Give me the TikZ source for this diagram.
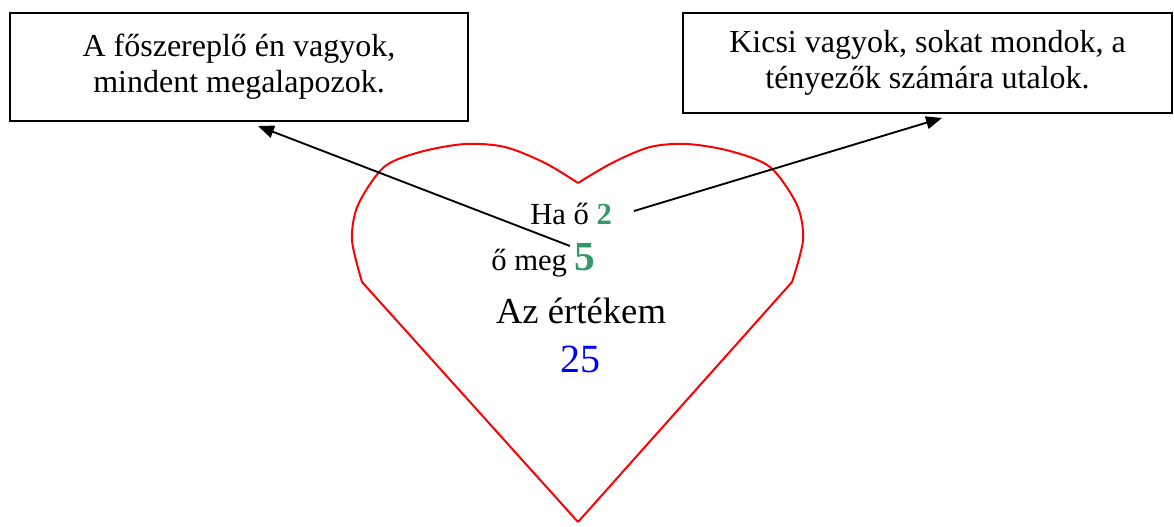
\documentclass[tikz,border=0pt]{standalone}
\usepackage{fontspec}
\setmainfont{Liberation Serif}
\usetikzlibrary{arrows.meta,positioning}
\definecolor{numgreen}{HTML}{339966}
\tikzset{
textbox/.style={draw,line width=1.5pt,align=center,font=\fontsize{24}{27}\selectfont},
heartline/.style={draw=red,line width=1.5pt},
flow/.style={-{Triangle[length=12pt,width=9.5pt]},line width=1.4pt},
label/.style={inner sep=0pt,font=\fontsize{23}{26}\selectfont}
}
\begin{document}
\begin{tikzpicture}[x=0.75pt,y=-0.75pt]
\useasboundingbox (0,0) rectangle (1174,526);
\node[textbox,minimum width=343.5pt,minimum height=81pt](left) at (239,67){A főszereplő én vagyok,\\mindent megalapozok.};
\node[textbox,minimum width=366.75pt,minimum height=75pt](right) at (927.5,63){Kicsi vagyok, sokat mondok, a\\tényezők számára utalok.};
% heart
\draw[heartline] (578,522) -- (362,282)
  plot[smooth,tension=.5] coordinates {(362,282) (352,240) (358,205) (384,167) (420,152) (465,144) (505,147) (545,163) (578,183)}
  plot[smooth,tension=.5] coordinates {(578,183) (612,163) (650,147) (687,144) (730,151) (770,167) (797,205) (803,240) (792,282)}
  -- (578,522);
\node[label,anchor=base west](ha) at (530,224){Ha ő \textcolor{numgreen}{\textbf{2}}};
\node[label,anchor=base west](meg) at (491,270){ő meg \textcolor{numgreen}{\fontsize{31}{34}\selectfont\textbf{5}}};
\node[label,anchor=base,font=\fontsize{27.5}{30}\selectfont](ert) at (581,323){Az értékem};
\node[label,anchor=base,font=\fontsize{30}{33}\selectfont,text=blue](val) at (580,372){25};
\coordinate (s1) at (570,246);
\coordinate (t1) at (258,126);
\coordinate (s2) at (634,211);
\coordinate (t2) at (942,118);
\draw[flow](s1)--(t1);\draw[flow](s2)--(t2);
\end{tikzpicture}
\end{document}
